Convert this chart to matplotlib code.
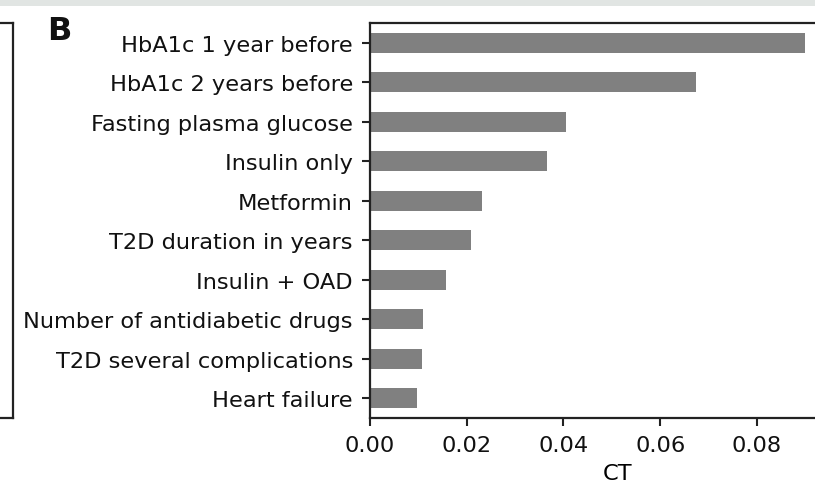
import numpy as np
import matplotlib.pyplot as plt
from matplotlib.patches import Rectangle

# Feature importance (CT) for the top ten predictors
features = [
    "HbA1c 1 year before",
    "HbA1c 2 years before",
    "Fasting plasma glucose",
    "Insulin only",
    "Metformin",
    "T2D duration in years",
    "Insulin + OAD",
    "Number of antidiabetic drugs",
    "T2D several complications",
    "Heart failure",
]
ct = [0.0900, 0.0674, 0.0405, 0.0366, 0.0232, 0.0209, 0.0157, 0.0110, 0.0108, 0.0097]
xticks = [0.00, 0.02, 0.04, 0.06, 0.08]

fig = plt.figure(figsize=(8.15, 4.85), dpi=100)

# grey header strip along the top
fig.patches.append(Rectangle((0, 1 - 7 / 485), 1, 7 / 485, transform=fig.transFigure,
                             facecolor="#e1e5e3", edgecolor="none", zorder=0))

# frame of panel A on the left (only its right part is in view)
axa = fig.add_axes([0, 66 / 485, 13 / 815, (419 - 24) / 485])
axa.set_xticks([])
axa.set_yticks([])
axa.spines["left"].set_visible(False)
for s in axa.spines.values():
    s.set_linewidth(1.6)
    s.set_color("#222222")

# panel B: horizontal bars, largest on top (right side runs off the edge)
ax = fig.add_axes([370 / 815, 66 / 485, 1 - 370 / 815, (419 - 24) / 485])
y = np.arange(len(features))[::-1]
ax.barh(y, ct, height=0.5, color="#808080")
ax.set_yticks(y)
ax.set_yticklabels(features, fontsize=16.2)
ax.set_ylim(-0.5, len(features) - 0.5)
ax.set_xlim(0, 0.0920)
ax.set_xticks(xticks)
ax.set_xticklabels([f"{t:.2f}" for t in xticks], fontsize=16.2)
ax.set_xlabel("CT", fontsize=16.2)
ax.xaxis.set_label_coords(0.557, -0.113)
ax.tick_params(length=5.8, width=1.5, pad=6.5, color="#222222", labelcolor="#111111")
ax.spines["right"].set_visible(False)
for s in ax.spines.values():
    s.set_linewidth(1.6)
    s.set_color("#222222")

fig.text(47 / 815, 1 - 40 / 485, "B", fontsize=23, fontweight="bold", color="#111111")

fig.savefig("out.png", dpi=100)
